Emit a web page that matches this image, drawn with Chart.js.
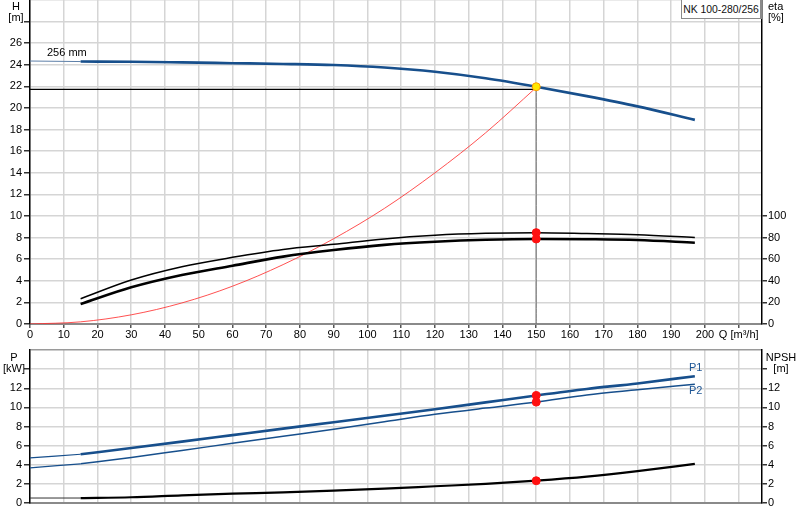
<!DOCTYPE html>
<html>
<head>
<meta charset="utf-8">
<script src="https://cdn.jsdelivr.net/npm/chart.js@4.4.0/dist/chart.umd.min.js"></script>
<style>
  body { margin: 0; background: #fff; font-family: "Liberation Sans", Arial, sans-serif; }
  #wrap { position: relative; width: 800px; height: 520px; overflow: hidden; }
  /* canvas starts a little above the page so the plot top sits at y=0 */
  #topBox { position: absolute; left: 0; top: -5px; width: 800px; height: 345px; }
  #botBox { position: absolute; left: 0; top: 340px; width: 800px; height: 180px; }
  .lbl { position: absolute; font-size: 11px; line-height: 11px; color: #000; white-space: nowrap; }
  .ctr { text-align: center; }
  #pumpName {
    left: 681px; top: -1px; width: 78px; height: 18px; line-height: 19px;
    border: 1px solid #8a8a8a; border-right-width: 2px; background: #fff;
    text-align: center; color: #111; font-size: 10.4px;
  }
  .blue { color: #1d5594; }
</style>
</head>
<body>
<div id="wrap">
  <div id="topBox"><canvas id="topChart"></canvas></div>
  <div id="botBox"><canvas id="botChart"></canvas></div>

  <div class="lbl ctr" style="left:1px;top:1px;width:30px">H<br>[m]</div>
  <div class="lbl" style="left:768px;top:1px">eta<br>[%]</div>
  <div class="lbl" id="pumpName">NK 100-280/256</div>
  <div class="lbl" style="left:47px;top:47px">256 mm</div>
  <div class="lbl ctr" style="left:0;top:352px;width:28px">P<br>[kW]</div>
  <div class="lbl ctr" style="left:764px;top:352px;width:34px">NPSH<br>[m]</div>
  <div class="lbl blue" style="left:689px;top:362px">P1</div>
  <div class="lbl blue" style="left:689px;top:385px">P2</div>
</div>

<script>
// flow points (m3/h) for the curves drawn with the full line
const qPts = [15, 30, 45, 60, 75, 90, 105, 120, 135, 150, 165, 180, 197];
// thin lead-in part of the curves, from zero flow
const qExt = [0, 15];

// head curve, 256 mm impeller (m)
const headExt = [24.35, 24.3];
const head = [24.3, 24.28, 24.22, 24.15, 24.08, 23.98, 23.75, 23.35, 22.75, 21.97, 21.1, 20.15, 18.9];

// efficiencies (%)
const etaPump = [23.4, 40.7, 53, 61.7, 69, 73.8, 78.8, 82.2, 84, 84.6, 83.8, 82.7, 80.2];
const etaTotal = [18.5, 34, 45.4, 54, 62.4, 68.5, 73.3, 76.2, 78, 78.7, 78.5, 77.8, 75.3];

// system curve (m)
const qSys = [0, 15, 30, 45, 60, 75, 90, 105, 120, 135, 150];
const hSys = [0, 0.2, 0.85, 1.95, 3.5, 5.5, 7.9, 10.7, 14.0, 17.7, 21.9];

// power (kW) and NPSH (m)
const p1Ext = [4.72, 5.1];
const p2Ext = [3.68, 4.1];
const npshExt = [0.52, 0.52];
const p1 = [5.1, 5.75, 6.42, 7.1, 7.78, 8.45, 9.13, 9.8, 10.52, 11.25, 11.93, 12.5, 13.26];
const p2 = [4.1, 4.76, 5.5, 6.24, 6.98, 7.72, 8.5, 9.27, 9.93, 10.55, 11.3, 11.84, 12.43];
const npsh = [0.52, 0.6, 0.8, 0.97, 1.12, 1.3, 1.5, 1.75, 2.0, 2.33, 2.75, 3.33, 4.1];

// duty point
const dutyQ = 150;
const dutyH = 21.97;
const dutyLineH = 21.73;
const dutyEta = [84.6, 78.7];
const dutyP = [11.25, 10.55];
const dutyNpsh = [2.33];

// axis ranges / tick steps
const qMax = 216.9, qStep = 10, qLastTick = 210;
const hMax = 30, hStep = 2, hLastLabel = 26;
const etaMax = 300, etaStep = 20, etaLastLabel = 100;
const pMax = 16, pStep = 2, pLastLabel = 12;

Chart.defaults.font.family = '"Liberation Sans", Arial, sans-serif';
Chart.defaults.font.size = 11;
Chart.defaults.color = '#000';

const BLUE = '#174f8c';
const GRID = '#d5d5d5';

const pts = (xs, ys) => xs.map((x, i) => ({ x, y: ys[i] }));

function line(data, color, width, axis) {
  return {
    data, borderColor: color, borderWidth: width, yAxisID: axis,
    pointRadius: 0, fill: false, cubicInterpolationMode: 'monotone'
  };
}
function dots(data, axis, fillCol, edgeCol) {
  return {
    data, yAxisID: axis, showLine: false,
    pointRadius: 4, pointBackgroundColor: fillCol || '#ff1010',
    pointBorderColor: edgeCol || '#ff1010', pointBorderWidth: 1
  };
}
function stepTicks(max, step) {
  return s => {
    s.ticks = [];
    for (let v = 0; v <= max + 1e-9; v += step) s.ticks.push({ value: v });
  };
}

function qScale(showLabels, height) {
  return {
    type: 'linear', min: 0, max: qMax,
    afterBuildTicks: stepTicks(qLastTick, qStep),
    ticks: {
      autoSkip: false, maxRotation: 0, padding: 0,
      callback: v => !showLabels ? '' : (v === qLastTick ? 'Q [m³/h]' : v)
    },
    grid: { color: GRID, lineWidth: 1.5, tickLength: showLabels ? 4 : 0, tickColor: '#555' },
    border: { color: '#8a8a8a', width: 2 },
    afterFit: s => { s.height = height; s.paddingLeft = 0; s.paddingRight = 0; }
  };
}
function vScale(pos, max, step, lastLabel, lastTick, width, onArea, topCol) {
  return {
    type: 'linear', position: pos, min: 0, max,
    afterBuildTicks: stepTicks(max, step),
    ticks: {
      autoSkip: false, padding: pos === 'left' ? 2 : 1,
      callback: v => v <= lastLabel ? v : ''
    },
    grid: {
      drawOnChartArea: onArea,
      color: c => (c.tick && c.tick.value === max && topCol) ? topCol : GRID,
      lineWidth: 1.5,
      tickLength: pos === 'left' ? 6 : 5,
      tickColor: c => (c.tick && c.tick.value > lastTick) ? 'rgba(0,0,0,0)' : '#333'
    },
    border: { color: '#000', width: 1.5 },
    afterFit: s => { s.width = width; s.paddingTop = 0; s.paddingBottom = 0; }
  };
}

const common = {
  responsive: true, maintainAspectRatio: false, animation: false, events: [],
  plugins: { legend: { display: false }, tooltip: { enabled: false } }
};

new Chart(document.getElementById('topChart'), {
  type: 'line',
  data: {
    datasets: [
      dots(pts([dutyQ], [dutyH]), 'y', '#ffe800', '#ff9a00'),
      dots(pts([dutyQ, dutyQ], dutyEta), 'y2'),
      line(pts(qPts, head), BLUE, 2.6, 'y'),
      line(pts(qExt, headExt), '#5d7fa8', 1, 'y'),
      line(pts(qPts, etaPump), '#000', 1.5, 'y2'),
      line(pts(qPts, etaTotal), '#000', 2.6, 'y2'),
      line(pts(qSys, hSys), 'rgba(255,50,50,0.85)', 1, 'y'),
      line(pts([0, dutyQ], [dutyLineH, dutyLineH]), '#000', 1.2, 'y'),
      line(pts([dutyQ, dutyQ], [dutyH, 0]), '#707070', 1, 'y')
    ]
  },
  options: {
    ...common,
    layout: { padding: { top: 0, left: 0, right: 0, bottom: 0 } },
    scales: {
      x: qScale(true, 16),
      y: vScale('left', hMax, hStep, hLastLabel, hMax - hStep, 30, true, null),
      y2: vScale('right', etaMax, etaStep, etaLastLabel, etaLastLabel, 38, false, null)
    }
  }
});

new Chart(document.getElementById('botChart'), {
  type: 'line',
  data: {
    datasets: [
      dots(pts([dutyQ, dutyQ], dutyP), 'y'),
      dots(pts([dutyQ], dutyNpsh), 'y2'),
      line(pts(qPts, p1), BLUE, 2.6, 'y'),
      line(pts(qExt, p1Ext), BLUE, 1.2, 'y'),
      line(pts(qPts, p2), BLUE, 1.5, 'y'),
      line(pts(qExt, p2Ext), BLUE, 1.2, 'y'),
      line(pts(qPts, npsh), '#000', 2.2, 'y2'),
      line(pts(qExt, npshExt), '#333', 1, 'y2')
    ]
  },
  options: {
    ...common,
    layout: { padding: { top: 10, left: 0, right: 0, bottom: 0 } },
    scales: {
      x: qScale(false, 17),
      y: vScale('left', pMax, pStep, pLastLabel, pMax - pStep, 30, true, '#9a9a9a'),
      y2: vScale('right', pMax, pStep, pLastLabel, pMax - pStep, 38, false, null)
    }
  }
});
</script>
</body>
</html>
